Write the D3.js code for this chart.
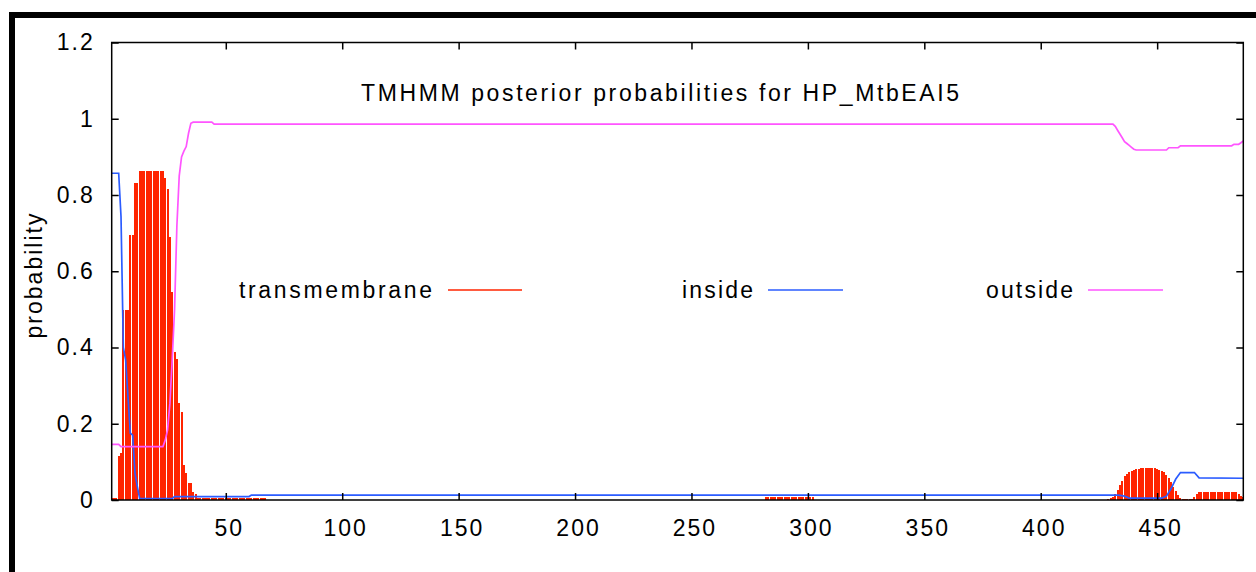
<!DOCTYPE html>
<html>
<head>
<meta charset="utf-8">
<script src="https://cdn.jsdelivr.net/npm/d3@7"></script>
<style>
  html, body { margin: 0; padding: 0; background: #ffffff; }
  svg { display: block; }
  text { font-family: "Liberation Sans", Arial, sans-serif; fill: #000; }
</style>
</head>
<body>
<script>
// ---- data ----
const titleText = "TMHMM posterior probabilities for HP_MtbEAI5";
const yLabel = "probability";
const seriesNames = ["transmembrane", "inside", "outside"];
const seriesColors = ["#ff2400", "#2b5cff", "#ff55ff"];
const xTicks = [50, 100, 150, 200, 250, 300, 350, 400, 450];
const yTicks = [0, 0.2, 0.4, 0.6, 0.8, 1, 1.2];
const seqLength = 487;

// transmembrane posterior: [firstPos, lastPos, value] runs (drawn as one impulse per residue)
const tmRuns = [
  [1,3,0.005],[4,4,0.115],[5,5,0.123],[6,8,0.498],[9,10,0.695],[11,12,0.832],
  [13,23,0.863],[24,24,0.845],[25,25,0.815],[26,26,0.69],[27,27,0.546],[28,28,0.389],
  [29,29,0.37],[30,30,0.254],[31,31,0.232],[32,32,0.092],[33,33,0.07],[34,35,0.045],
  [36,36,0.02],[37,37,0.015],[38,67,0.005],[282,302,0.007],
  [429,429,0.003],[430,430,0.006],[431,431,0.009],[432,432,0.015],[433,433,0.026],
  [434,434,0.04],[435,435,0.05],[436,436,0.062],[437,437,0.068],[438,438,0.074],
  [439,439,0.077],[440,440,0.08],[441,441,0.081],[442,442,0.082],[443,449,0.083],
  [450,450,0.082],[451,451,0.08],[452,452,0.077],[453,453,0.073],[454,454,0.066],
  [455,455,0.058],[456,456,0.047],[457,457,0.035],[458,458,0.024],[459,459,0.014],
  [460,460,0.006],[461,465,0.002],[466,466,0.008],[467,467,0.015],[468,484,0.022],
  [485,485,0.015],[486,486,0.01],[487,487,0.008]
];

// inside posterior: [position, value] vertices
const insidePts = [
  [1,0.857],[4,0.857],[5,0.743],[6,0.40],[7,0.367],[8,0.271],[9,0.175],[10,0.17],
  [11,0.07],[12,0.035],[13,0.004],[27,0.004],[28,0.009],[60,0.009],[61,0.013],
  [433,0.013],[434,0.012],[436,0.01],[438,0.005],[452,0.005],[454,0.01],[456,0.03],
  [458,0.055],[460,0.072],[466,0.072],[468,0.058],[487,0.057]
];

// outside posterior: [position, value] vertices
const outsidePts = [
  [1,0.146],[4,0.146],[5,0.14],[23,0.14],[24,0.157],[25,0.184],[26,0.254],[27,0.37],
  [28,0.5],[29,0.72],[30,0.85],[31,0.9],[32,0.915],[33,0.927],[34,0.962],[35,0.988],
  [36,0.991],[44,0.991],[45,0.986],[431,0.986],[432,0.98],[433,0.97],[434,0.96],
  [435,0.95],[436,0.94],[437,0.935],[438,0.93],[439,0.925],[440,0.92],[441,0.918],
  [454,0.918],[455,0.924],[459,0.924],[460,0.929],[482,0.929],[483,0.933],[485,0.933],
  [486,0.937],[487,0.942]
];

// ---- layout ----
const W = 1256, H = 572;
const plot = { left: 111.7, right: 1243.3, top: 42.5, bottom: 500 };

const svg = d3.select("body").append("svg").attr("width", W).attr("height", H);

// outer black frame (top and left edges visible)
svg.append("rect").attr("x", 9).attr("y", 12).attr("width", W - 9).attr("height", 6).attr("fill", "#000");
svg.append("rect").attr("x", 9).attr("y", 12).attr("width", 6).attr("height", H - 12).attr("fill", "#000");

const x = d3.scaleLinear().domain([1, seqLength]).range([plot.left, plot.right]);
const y = d3.scaleLinear().domain([0, 1.2]).range([plot.bottom, plot.top]);

svg.append("clipPath").attr("id", "clip").append("rect")
  .attr("x", plot.left).attr("y", plot.top)
  .attr("width", plot.right - plot.left).attr("height", plot.bottom - plot.top);

// transmembrane impulses
const tm = [];
tmRuns.forEach(([a, b, v]) => { for (let i = a; i <= b; i++) tm.push([i, v]); });
svg.append("g").attr("clip-path", "url(#clip)")
  .selectAll("rect").data(tm).join("rect")
  .attr("x", d => Math.round(x(d[0])) - 1)
  .attr("width", 2)
  .attr("y", d => y(d[1]))
  .attr("height", d => y(0) - y(d[1]))
  .attr("fill", seriesColors[0])
  .attr("shape-rendering", "crispEdges");

const line = d3.line().x(d => x(d[0])).y(d => y(d[1]));
const lg = svg.append("g").attr("clip-path", "url(#clip)");
lg.append("path").datum(insidePts).attr("d", line)
  .attr("fill", "none").attr("stroke", seriesColors[1]).attr("stroke-width", 1.7);
lg.append("path").datum(outsidePts).attr("d", line)
  .attr("fill", "none").attr("stroke", seriesColors[2]).attr("stroke-width", 1.7);

// axes
const fontSize = 23, ls = 2;
const gB = svg.append("g").attr("transform", `translate(0,${plot.bottom})`)
  .call(d3.axisBottom(x).tickValues(xTicks).tickSize(-7).tickSizeOuter(0).tickPadding(20));
const gT = svg.append("g").attr("transform", `translate(0,${plot.top})`)
  .call(d3.axisTop(x).tickValues(xTicks).tickSize(-7).tickSizeOuter(0).tickFormat(""));
const gL = svg.append("g").attr("transform", `translate(${plot.left},0)`)
  .call(d3.axisLeft(y).tickValues(yTicks).tickSize(-7).tickSizeOuter(0).tickPadding(17)
        .tickFormat(d => d3.format("")(d)));
const gR = svg.append("g").attr("transform", `translate(${plot.right},0)`)
  .call(d3.axisRight(y).tickValues(yTicks).tickSize(-7).tickSizeOuter(0).tickFormat(""));

[gB, gT, gL, gR].forEach(g => {
  g.select(".domain").remove();
  g.selectAll(".tick line").attr("stroke", "#000").attr("stroke-width", 1.5);
  g.selectAll("text").attr("font-size", fontSize).attr("letter-spacing", ls)
    .attr("font-family", "Liberation Sans, Arial, sans-serif").attr("fill", "#000");
});
gB.selectAll(".tick text").attr("dx", 3);

// plot frame
svg.append("rect")
  .attr("x", plot.left).attr("y", plot.top)
  .attr("width", plot.right - plot.left).attr("height", plot.bottom - plot.top)
  .attr("fill", "none").attr("stroke", "#000").attr("stroke-width", 1.5);

// title
svg.append("text").attr("x", 361).attr("y", 101)
  .attr("font-size", fontSize).attr("textLength", 598).attr("lengthAdjust", "spacing")
  .text(titleText);

// y label
svg.append("text").attr("transform", "translate(42,275) rotate(-90)")
  .attr("text-anchor", "middle").attr("font-size", fontSize).attr("letter-spacing", ls)
  .text(yLabel);

// legend
const legend = [
  { name: seriesNames[0], tx: 239, tw: 193, l1: 448, l2: 522, color: seriesColors[0] },
  { name: seriesNames[1], tx: 682, tw: 71, l1: 768, l2: 843, color: seriesColors[1] },
  { name: seriesNames[2], tx: 986, tw: 87, l1: 1088, l2: 1163, color: seriesColors[2] }
];
const legG = svg.append("g");
legend.forEach(d => {
  legG.append("text").attr("x", d.tx).attr("y", 298).attr("font-size", fontSize)
    .attr("textLength", d.tw).attr("lengthAdjust", "spacing").text(d.name);
  legG.append("line").attr("x1", d.l1).attr("x2", d.l2).attr("y1", 290).attr("y2", 290)
    .attr("stroke", d.color).attr("stroke-width", 1.7);
});
</script>
</body>
</html>
